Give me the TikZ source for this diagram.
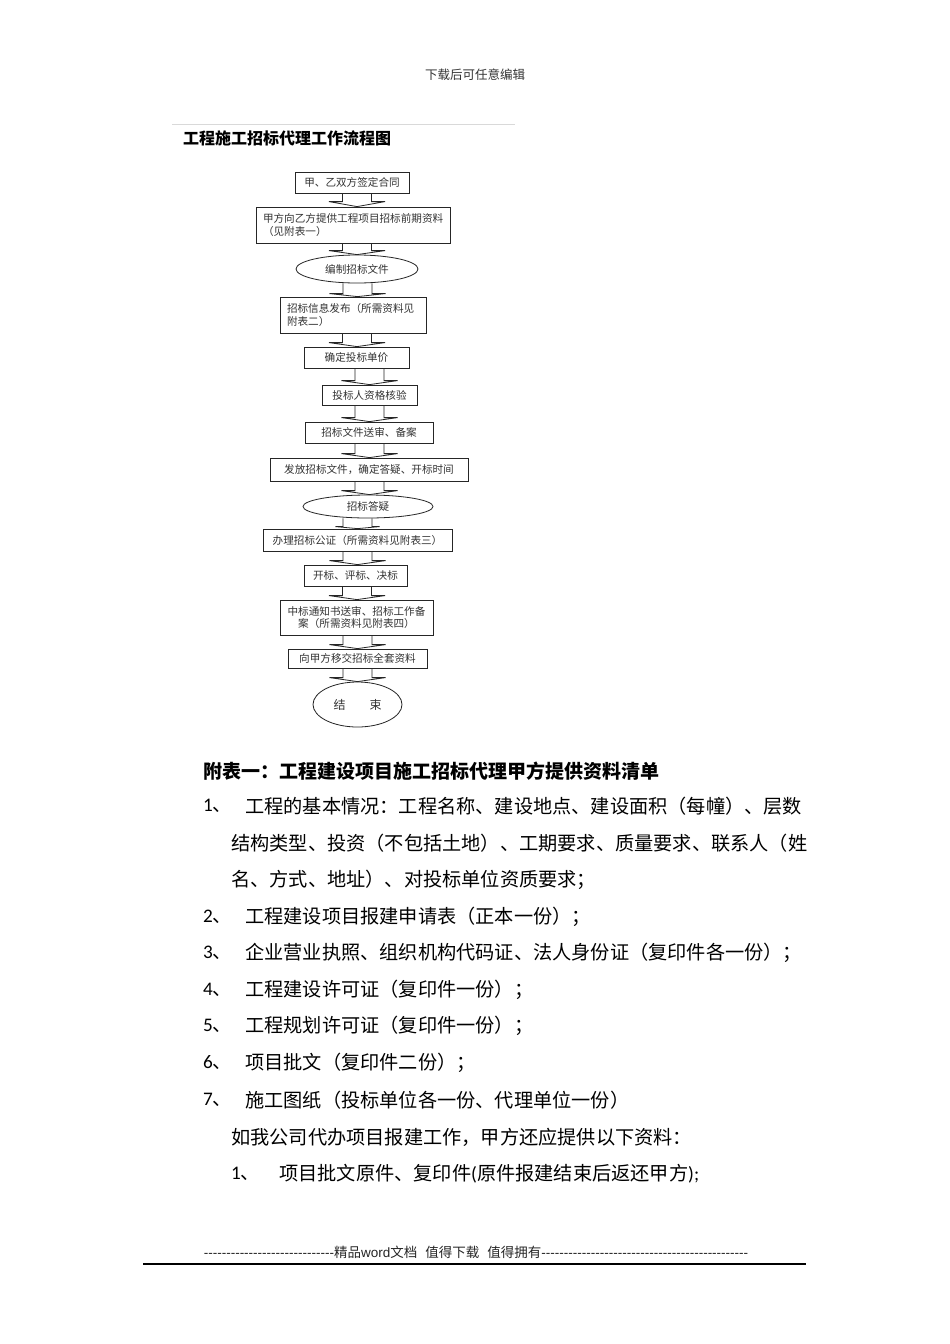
\documentclass[tikz,border=0pt]{standalone}
\usepackage{fontspec}
\setmainfont{Liberation Sans}
\newfontfamily\cjk{Noto Sans CJK SC}
\newfontfamily\lat{Carlito}
\usetikzlibrary{shapes.geometric,calc}
\tikzset{
  box/.style={draw=black!85, line width=0.8pt, rectangle, inner sep=0pt,
    font=\cjk\fontsize{10.6}{12.5}\selectfont, text=black!80, align=center},
  mbox/.style={box, align=left, inner xsep=7pt},
  oval/.style={draw=black!85, line width=0.8pt, ellipse, inner sep=0pt,
    font=\cjk\fontsize{10.6}{12.5}\selectfont, text=black!80},
  conn/.style={draw=black!85, line width=0.8pt, line join=miter},
  body/.style={anchor=west, inner sep=0pt, font=\cjk\fontsize{19.2}{22}\selectfont},
  num/.style={anchor=west, inner sep=0pt, font=\lat\fontsize{19.2}{22}\selectfont},
}
\newcount\dshcount
\newcommand\dsh[1]{\dshcount=0 \loop -\kern0pt\advance\dshcount by 1 \ifnum\dshcount<#1\repeat}
\newcommand\flowarrow[5]{%
  \path (#3,0 |- #1.south) coordinate (#1-#2-t) (#3,0 |- #2.north) coordinate (#1-#2-b);
  \draw[conn] ([xshift=-14.5pt]#1-#2-t) -- ([xshift=-14.5pt,yshift=#5]#1-#2-b)
    -- ([xshift=-#4,yshift=#5]#1-#2-b) -- (#1-#2-b)
    -- ([xshift=#4,yshift=#5]#1-#2-b) -- ([xshift=14.5pt,yshift=#5]#1-#2-b)
    -- ([xshift=14.5pt]#1-#2-t);
}
\begin{document}
\begin{tikzpicture}[x=1pt,y=-1pt]
\useasboundingbox[fill=white] (0,0) rectangle (950,1344);

% header
\node[font=\cjk\fontsize{12.5}{14}\selectfont, text=black!80] (hdr) at (475,75) {下载后可任意编辑};

% top rule and title
\coordinate (rl) at (172,124);
\coordinate (rr) at (515,124);
\draw[black!15, line width=0.8pt] (rl) -- (rr);
\node[anchor=west, inner sep=0pt, font=\cjk\bfseries\fontsize{16}{18}\selectfont] (title) at (183,138) {工程施工招标代理工作流程图};

% flowchart
\node[box, minimum width=114pt, minimum height=21pt] (n1) at (352,182.5) {甲、乙双方签定合同};
\node[mbox, text width=180pt, minimum height=36pt] (n2) at (353,225) {甲方向乙方提供工程项目招标前期资料\\（见附表一）};
\node[oval, minimum width=122pt, minimum height=28pt] (e1) at (357,269) {编制招标文件};
\node[mbox, text width=132pt, minimum height=36pt] (n3) at (353,315) {招标信息发布（所需资料见\\附表二）};
\node[box, minimum width=105pt, minimum height=21pt] (n4) at (356.5,357.5) {确定投标单价};
\node[box, minimum width=95pt, minimum height=20pt] (n5) at (369.5,395) {投标人资格核验};
\node[box, minimum width=128pt, minimum height=21pt] (n6) at (369,432.5) {招标文件送审、备案};
\node[box, minimum width=198pt, minimum height=23pt] (n7) at (369,469.5) {发放招标文件，确定答疑、开标时间};
\node[oval, minimum width=130pt, minimum height=23pt] (e2) at (368,506.5) {招标答疑};
\node[box, minimum width=189pt, minimum height=22pt] (n8) at (357.5,540) {办理招标公证（所需资料见附表三）};
\node[box, minimum width=103pt, minimum height=21pt] (n9) at (355.5,575.5) {开标、评标、决标};
\node[box, text width=147pt, minimum height=35pt, inner xsep=3pt] (n10) at (356.5,617.5) {中标通知书送审、招标工作备\\案（所需资料见附表四）};
\node[box, minimum width=139pt, minimum height=19pt] (n11) at (357.5,658.5) {向甲方移交招标全套资料};
\node[oval, minimum width=89pt, minimum height=45pt, font=\cjk\fontsize{12}{14}\selectfont] (e3) at (357.5,704.5) {结　　束};

\flowarrow{n1}{n2}{357}{28pt}{5pt}
\flowarrow{n2}{e1}{357}{28pt}{4pt}
\flowarrow{e1}{n3}{357.5}{28pt}{3pt}
\flowarrow{n3}{n4}{357}{28pt}{4pt}
\flowarrow{n4}{n5}{369.5}{28pt}{4pt}
\flowarrow{n5}{n6}{369.5}{28pt}{4pt}
\flowarrow{n6}{n7}{369.5}{28pt}{4pt}
\flowarrow{n7}{e2}{369.5}{28pt}{4pt}
\flowarrow{e2}{n8}{357.5}{22pt}{2pt}
\flowarrow{n8}{n9}{357.5}{28pt}{4pt}
\flowarrow{n9}{n10}{357}{28pt}{4pt}
\flowarrow{n10}{n11}{357.5}{28pt}{4pt}
\flowarrow{n11}{e3}{357.5}{28pt}{4pt}

% list
\node[body, font=\cjk\bfseries\fontsize{19}{22}\selectfont] (t1) at (203,771) {附表一：工程建设项目施工招标代理甲方提供资料清单};
\node[num] (k1) at (203,806) {1\cjk 、};
\node[body] (i1a) at (245,806) {工程的基本情况：工程名称、建设地点、建设面积（每幢）、层数};
\node[body] (i1b) at (231,843) {结构类型、投资（不包括土地）、工期要求、质量要求、联系人（姓};
\node[body] (i1c) at (231,880) {名、方式、地址）、对投标单位资质要求；};
\node[num] (k2) at (203,917) {2\cjk 、};
\node[body] (i2) at (245,917) {工程建设项目报建申请表（正本一份）；};
\node[num] (k3) at (203,953) {3\cjk 、};
\node[body] (i3) at (245,953) {企业营业执照、组织机构代码证、法人身份证（复印件各一份）；};
\node[num] (k4) at (203,990) {4\cjk 、};
\node[body] (i4) at (245,990) {工程建设许可证（复印件一份）；};
\node[num] (k5) at (203,1026) {5\cjk 、};
\node[body] (i5) at (245,1026) {工程规划许可证（复印件一份）；};
\node[num] (k6) at (203,1063) {6\cjk 、};
\node[body] (i6) at (245,1063) {项目批文（复印件二份）；};
\node[num] (k7) at (203,1100) {7\cjk 、};
\node[body] (i7) at (245,1100) {施工图纸（投标单位各一份、代理单位一份）};
\node[body] (p1) at (231,1137) {如我公司代办项目报建工作，甲方还应提供以下资料：};
\node[num] (k8) at (231,1174) {1\cjk 、};
\node[body] (i8) at (279,1174) {项目批文原件、复印件{\lat (}原件报建结束后返还甲方{\lat );}};

% footer
\node[font=\fontsize{13.5}{15}\selectfont, inner sep=0pt, text=black!85] (ftr) at (476,1252)
  {\dsh{29}{\cjk 精品}word{\cjk 文档}\hspace{8pt}{\cjk 值得下载}\hspace{8pt}{\cjk 值得拥有}\dsh{46}};
\coordinate (bl) at (143,1264);
\coordinate (br) at (806,1264);
\draw[black, line width=1.5pt] (bl) -- (br);
\end{tikzpicture}
\end{document}
